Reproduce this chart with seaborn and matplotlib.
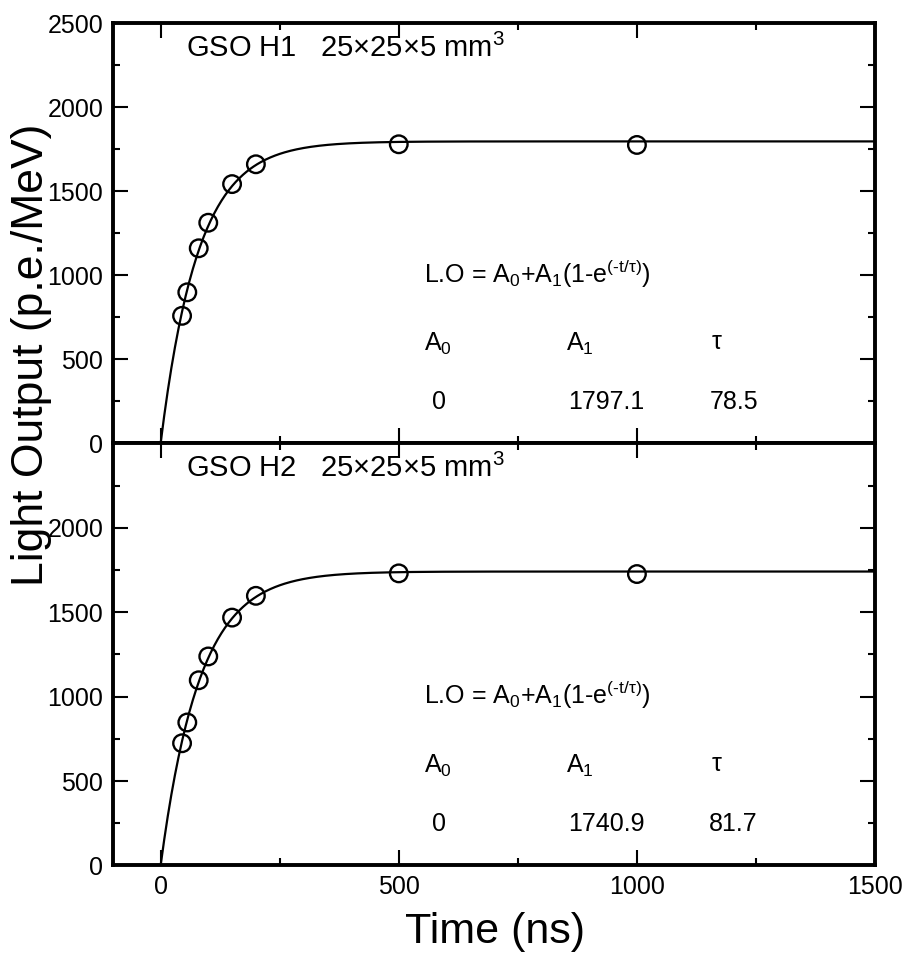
import numpy as np
import pandas as pd
import seaborn as sns
import matplotlib
matplotlib.use("Agg")
import matplotlib.pyplot as plt
from matplotlib.ticker import MultipleLocator, FixedLocator

sns.set_theme(style="ticks")
plt.rcParams["font.family"] = ["Liberation Sans", "DejaVu Sans"]
plt.rcParams["mathtext.fontset"] = "custom"
plt.rcParams["mathtext.rm"] = "Liberation Sans"
plt.rcParams["mathtext.it"] = "Liberation Sans"
plt.rcParams["mathtext.default"] = "rm"
plt.rcParams["text.color"] = "black"
plt.rcParams["axes.labelcolor"] = "black"
plt.rcParams["xtick.color"] = "black"
plt.rcParams["ytick.color"] = "black"
plt.rcParams["xtick.labelcolor"] = "black"
plt.rcParams["ytick.labelcolor"] = "black"

# ---- data ----
time_ns = [45, 56, 80, 100, 150, 200, 500, 1000]
h1_light = [759, 899, 1161, 1313, 1543, 1661, 1780, 1776]
h2_light = [724, 847, 1097, 1238, 1468, 1597, 1730, 1726]
panel_titles = ["GSO H1   25×25×5 mm$^3$", "GSO H2   25×25×5 mm$^3$"]
fit_A0 = [0, 0]
fit_A1 = [1797.1, 1740.9]
fit_tau = [78.5, 81.7]
x_ticks = [0, 500, 1000, 1500]
y_ticks_top = [0, 500, 1000, 1500, 2000, 2500]
y_ticks_bottom = [0, 500, 1000, 1500, 2000]

series = [h1_light, h2_light]

fig = plt.figure(figsize=(9.04, 9.59), dpi=100)
ax_top = fig.add_axes([0.125, 0.5377, 0.843, 0.438])
ax_bot = fig.add_axes([0.125, 0.0975, 0.843, 0.4402])
axes = [ax_top, ax_bot]

t_fit = np.linspace(0, 1500, 600)

for i, ax in enumerate(axes):
    df = pd.DataFrame({"t": time_ns, "lo": series[i]})
    fit_df = pd.DataFrame({
        "t": t_fit,
        "lo": fit_A0[i] + fit_A1[i] * (1 - np.exp(-t_fit / fit_tau[i])),
    })
    sns.lineplot(data=fit_df, x="t", y="lo", ax=ax, color="black", lw=1.6, zorder=2)
    sns.scatterplot(data=df, x="t", y="lo", ax=ax, marker="o", s=160,
                    facecolors="none", edgecolor="black", linewidth=1.7, zorder=3)
    ax.set_xlim(-100, 1500)
    ax.set_ylim(0, 2500)
    ax.set_xlabel("")
    ax.set_ylabel("")
    ax.xaxis.set_major_locator(FixedLocator(x_ticks))
    ax.xaxis.set_minor_locator(MultipleLocator(250))
    ax.yaxis.set_major_locator(FixedLocator(y_ticks_top if i == 0 else y_ticks_bottom))
    ax.yaxis.set_minor_locator(MultipleLocator(250))
    ax.tick_params(which="both", direction="in", top=True, right=True,
                   colors="black", labelcolor="black", labelsize=18)
    ax.tick_params(which="major", length=10.5, width=1.5, pad=7)
    ax.tick_params(which="minor", length=5, width=1.5)
    for sp in ax.spines.values():
        sp.set_visible(True)
        sp.set_linewidth(2.8)
        sp.set_color("black")

    # annotations
    ax.text(53, 2300, panel_titles[i], fontsize=21, va="baseline", ha="left")
    ax.text(552, 955, "L.O = A$_0$+A$_1$(1-e$^{(\u2010t/τ)}$)", fontsize=18,
            va="baseline", ha="left")
    ax.text(552, 548, r"A$_0$", fontsize=18, va="baseline", ha="left")
    ax.text(851, 548, r"A$_1$", fontsize=18, va="baseline", ha="left")
    ax.text(1157, 560, "τ", fontsize=18, va="baseline", ha="left")
    ax.text(570, 202, f"{fit_A0[i]:g}", fontsize=18, va="baseline", ha="left")
    ax.text(855, 202, f"{fit_A1[i]:.1f}", fontsize=18, va="baseline", ha="left")
    ax.text(1152, 202, f"{fit_tau[i]:.1f}", fontsize=18, va="baseline", ha="left")

ax_top.tick_params(labelbottom=False)

fig.text(0.035, 0.63, "Light Output (p.e./MeV)", rotation=90, fontsize=32,
         ha="center", va="center", color="black")
fig.text(0.548, 0.028, "Time (ns)", fontsize=31, ha="center", va="center",
         color="black")

fig.savefig("out.png", dpi=100, facecolor="white")
